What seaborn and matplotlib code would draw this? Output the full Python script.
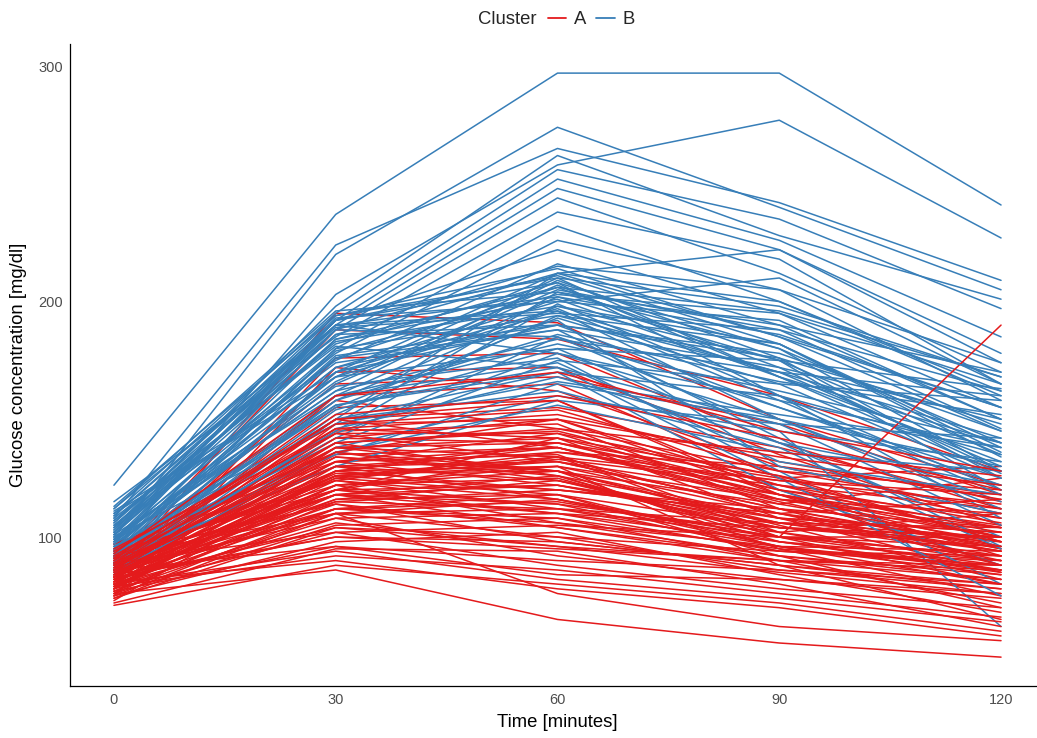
import numpy as np
import pandas as pd
import seaborn as sns
import matplotlib.pyplot as plt
from matplotlib.lines import Line2D

times = [0, 30, 60, 90, 120]

# one row per subject: glucose at 0, 30, 60, 90, 120 min
cluster_a = [
    [84, 195, 191, 150, 122], [90, 188, 184, 160, 128], [78, 176, 178, 140, 112],
    [86, 170, 172, 135, 105], [92, 165, 168, 148, 118], [81, 160, 165, 125, 98],
    [75, 172, 162, 130, 110], [88, 155, 158, 120, 92], [83, 150, 155, 138, 115],
    [79, 148, 150, 118, 96], [94, 158, 146, 128, 120], [87, 145, 148, 112, 88],
    [82, 140, 145, 122, 100], [76, 138, 142, 108, 85], [91, 142, 140, 125, 130],
    [85, 135, 138, 115, 95], [80, 132, 135, 102, 90], [89, 130, 132, 118, 105],
    [73, 128, 130, 110, 98], [96, 136, 128, 105, 82], [84, 125, 133, 122, 112],
    [78, 122, 125, 100, 88], [86, 127, 128, 95, 75], [92, 124, 136, 130, 118],
    [81, 120, 122, 108, 102], [88, 118, 126, 98, 85], [77, 115, 120, 112, 95],
    [83, 125, 118, 92, 70], [95, 130, 124, 106, 100], [80, 112, 115, 100, 92],
    [87, 120, 142, 126, 108], [74, 110, 112, 96, 80], [90, 126, 130, 88, 65],
    [84, 116, 118, 104, 98], [79, 108, 110, 98, 90], [93, 122, 128, 114, 125],
    [82, 112, 106, 92, 82], [86, 118, 114, 102, 110], [76, 105, 108, 95, 88],
    [89, 128, 120, 110, 94], [81, 114, 104, 90, 72], [97, 132, 138, 118, 100],
    [85, 110, 100, 86, 78], [78, 102, 105, 100, 96], [91, 124, 116, 96, 86],
    [83, 100, 98, 88, 80], [88, 115, 112, 106, 104], [75, 98, 102, 84, 68],
    [94, 120, 110, 94, 90], [80, 106, 96, 85, 76], [86, 112, 108, 90, 88],
    [72, 95, 94, 80, 62], [90, 118, 104, 92, 84], [82, 104, 100, 94, 92],
    [87, 108, 92, 82, 74], [77, 96, 90, 86, 80], [93, 114, 98, 88, 78],
    [79, 92, 86, 76, 66], [84, 100, 95, 90, 86], [71, 88, 80, 72, 60],
    [89, 102, 88, 78, 70], [81, 90, 78, 70, 58], [86, 96, 84, 82, 76],
    [76, 86, 65, 55, 49], [92, 110, 76, 62, 56], [80, 94, 82, 74, 64],
    [85, 120, 134, 100, 190], [88, 146, 152, 132, 116], [83, 138, 140, 120, 108],
    [78, 130, 136, 124, 114], [90, 152, 160, 142, 120], [86, 144, 144, 116, 100],
    [82, 134, 128, 106, 92], [94, 148, 154, 128, 112], [79, 126, 132, 112, 104],
    [87, 140, 146, 136, 126], [84, 136, 124, 104, 96], [91, 150, 138, 114, 98],
    [76, 118, 122, 106, 94], [88, 130, 116, 98, 86], [81, 124, 112, 100, 100],
    [85, 142, 150, 122, 106], [93, 160, 170, 145, 128], [78, 128, 140, 118, 102],
    [89, 134, 126, 108, 94], [83, 122, 130, 116, 110], [87, 138, 134, 110, 90],
    [80, 116, 124, 102, 86], [92, 146, 142, 120, 104], [75, 112, 118, 96, 84],
    [86, 126, 120, 110, 116], [84, 132, 144, 126, 98], [90, 140, 126, 100, 80],
    [79, 120, 114, 94, 88], [88, 136, 150, 134, 122], [82, 118, 110, 104, 100],
    [95, 144, 132, 112, 96], [77, 110, 116, 100, 92], [85, 128, 138, 116, 104],
    [89, 150, 158, 118, 88], [81, 122, 106, 96, 94], [74, 104, 96, 90, 82],
    [87, 132, 122, 104, 100], [83, 126, 134, 124, 118], [91, 138, 128, 108, 102],
]

cluster_b = [
    [122, 237, 297, 297, 241], [100, 220, 274, 240, 205], [95, 203, 258, 277, 227],
    [108, 224, 265, 242, 209], [104, 198, 262, 228, 201], [110, 195, 256, 235, 197],
    [98, 192, 252, 226, 185], [112, 190, 248, 222, 174], [93, 188, 244, 212, 170],
    [115, 185, 238, 218, 165], [90, 180, 232, 200, 162], [102, 178, 226, 205, 158],
    [97, 192, 222, 195, 155], [105, 175, 216, 190, 150], [88, 170, 212, 185, 145],
    [99, 168, 210, 198, 168], [107, 182, 208, 180, 140], [92, 165, 205, 188, 162],
    [101, 160, 202, 175, 135], [96, 172, 200, 192, 150], [86, 158, 198, 182, 138],
    [109, 190, 196, 170, 130], [94, 155, 193, 165, 125], [103, 186, 190, 178, 145],
    [89, 150, 212, 200, 160], [113, 194, 214, 185, 155], [91, 176, 206, 172, 128],
    [100, 148, 204, 190, 170], [95, 184, 201, 168, 132], [87, 145, 199, 160, 120],
    [106, 188, 215, 205, 174], [98, 162, 209, 176, 148], [93, 179, 203, 195, 165],
    [111, 170, 197, 158, 118], [84, 152, 194, 170, 142], [102, 192, 211, 182, 136],
    [97, 166, 207, 168, 127], [90, 142, 185, 155, 122], [104, 174, 188, 172, 150],
    [88, 160, 182, 162, 140], [99, 190, 178, 150, 112], [94, 140, 175, 165, 158],
    [108, 181, 172, 148, 105], [92, 156, 170, 160, 135], [85, 146, 168, 140, 100],
    [101, 188, 185, 145, 62], [96, 135, 165, 150, 130], [110, 168, 180, 175, 163],
    [89, 150, 162, 138, 95], [103, 193, 200, 210, 165], [95, 177, 190, 155, 125],
    [86, 138, 160, 145, 132], [100, 164, 176, 128, 80], [107, 189, 195, 188, 146],
    [91, 158, 186, 166, 152], [98, 172, 192, 130, 110], [88, 144, 178, 158, 138],
    [105, 183, 198, 175, 120], [93, 150, 170, 120, 88], [112, 196, 204, 180, 128],
    [97, 162, 184, 170, 160], [90, 130, 158, 148, 142], [102, 186, 212, 222, 178],
    [94, 168, 196, 150, 115], [87, 154, 180, 140, 122], [109, 192, 208, 160, 108],
    [99, 176, 188, 142, 96], [92, 160, 174, 132, 118], [104, 190, 202, 186, 155],
    [96, 148, 166, 152, 138], [89, 170, 190, 176, 125], [101, 184, 206, 196, 168],
    [95, 156, 172, 125, 75], [85, 136, 156, 136, 128], [106, 194, 210, 168, 140],
    [98, 180, 194, 182, 134],
]

red = '#E41A1C'
blue = '#377EB8'

# interleave subjects so the colours overlap like the original
records = []
ids = []
pal = {}
for i in range(max(len(cluster_a), len(cluster_b))):
    for name, data, col in (('A', cluster_a, red), ('B', cluster_b, blue)):
        if i < len(data):
            pid = name + str(i)
            ids.append(pid)
            pal[pid] = col
            for t, v in zip(times, data[i]):
                records.append({'id': pid, 'cluster': name, 'time': t, 'glucose': v})
df = pd.DataFrame(records)

sns.set_style('white')
plt.rcParams['font.family'] = ['Liberation Sans', 'DejaVu Sans']

fig = plt.figure(figsize=(10.37, 7.38), dpi=100)
ax = fig.add_axes([0.0671, 0.070, 0.941, 0.8705])

sns.lineplot(data=df, x='time', y='glucose', hue='id', hue_order=ids, palette=pal,
             estimator=None, errorbar=None, legend=False, linewidth=1.1, ax=ax)

ax.set_xlim(-6, 126)
ax.set_ylim(36.6, 309.4)
ax.set_xticks(times)
ax.set_yticks([100, 200, 300])
ax.tick_params(axis='both', length=3.5, width=0.8, color='#333333',
               labelcolor='#4D4D4D', labelsize=10.5, pad=1.5, direction='out')
for s in ['top', 'right']:
    ax.spines[s].set_visible(False)
for s in ['left', 'bottom']:
    ax.spines[s].set_color('black')
    ax.spines[s].set_linewidth(0.9)

ax.set_xlabel('Time [minutes]', fontsize=13.3, color='black', labelpad=5)
ax.set_ylabel('Glucose concentration [mg/dl]', fontsize=13.3, color='black', labelpad=8)

fig.text(478 / 1037, 1 - 20 / 738, 'Cluster', fontsize=13.3, ha='left', va='center')
handles = [Line2D([], [], color=red, lw=1.3), Line2D([], [], color=blue, lw=1.3)]
fig.legend(handles, ['A', 'B'], loc='center left', bbox_to_anchor=(548 / 1037, 1 - 20 / 738),
           ncol=2, frameon=False, fontsize=13.3, handlelength=1.0, handletextpad=0.4,
           columnspacing=0.55, borderpad=0, borderaxespad=0)

fig.savefig('out.png', dpi=100)
